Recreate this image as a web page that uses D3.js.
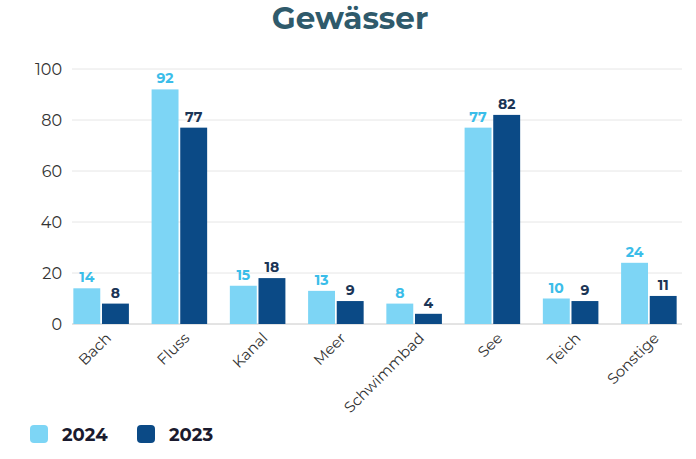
<!DOCTYPE html>
<html><head><meta charset="utf-8">
<script src="https://cdn.jsdelivr.net/npm/d3@7"></script>
<style>body{margin:0;background:#fff}svg{display:block}</style>
</head><body>
<svg id="c" width="696" height="459"></svg>
<script>
const categories = ["Bach","Fluss","Kanal","Meer","Schwimmbad","See","Teich","Sonstige"];
const seriesNames = ["2024","2023"];
const values2024 = [14,92,15,13,8,77,10,24];
const values2023 = [8,77,18,9,4,82,9,11];
const yTicks = [0,20,40,60,80,100];
const colors = ["#7dd5f5","#0b4a86"];
const labelColors = ["#3bbde9","#1b3556"];

const svg = d3.select("#c");
const font = "Montserrat, 'Noto Sans', 'DejaVu Sans', sans-serif";

const x = d3.scaleBand().domain(categories).range([62, 688]).paddingInner(0.29).paddingOuter(0.145);
const xs = d3.scaleBand().domain(seriesNames).range([0, x.bandwidth()]).paddingInner(0.06);
const y = d3.scaleLinear().domain([0,100]).range([324, 69]);

svg.append("text").attr("x",350).attr("y",29).attr("text-anchor","middle")
  .attr("font-family",font).attr("font-weight",700).attr("font-size",31)
  .attr("fill","#2f5a6b").text("Gewässer");

// grid
svg.append("g").selectAll("line").data(yTicks).join("line")
  .attr("x1",72).attr("x2",682).attr("y1",d=>y(d)).attr("y2",d=>y(d))
  .attr("stroke",d=>d===0?"#c8c8c8":"#e6e6e6").attr("stroke-width",1);

// y axis
const ya = svg.append("g").attr("transform","translate(62,0)")
  .call(d3.axisLeft(y).tickValues(yTicks).tickSize(0).tickPadding(0));
ya.select(".domain").remove();
ya.selectAll("text").attr("font-family",font).attr("font-size",16).attr("fill","#333").attr("dy","0.35em");

const data = categories.map((c,i)=>({c, v:[values2024[i], values2023[i]]}));
const g = svg.append("g").selectAll("g").data(data).join("g")
  .attr("transform",d=>`translate(${x(d.c)},0)`);
g.selectAll("rect").data(d=>d.v.map((v,j)=>({v,j}))).join("rect")
  .attr("x",d=>xs(seriesNames[d.j])).attr("width",xs.bandwidth())
  .attr("y",d=>y(d.v)).attr("height",d=>y(0)-y(d.v))
  .attr("fill",d=>colors[d.j]);
g.selectAll("text").data(d=>d.v.map((v,j)=>({v,j}))).join("text")
  .attr("x",d=>xs(seriesNames[d.j])+xs.bandwidth()/2).attr("y",d=>y(d.v)-6)
  .attr("text-anchor","middle").attr("font-family",font).attr("font-weight",700)
  .attr("font-size",14).attr("fill",d=>labelColors[d.j]).text(d=>d.v);

// x axis labels
const xa = svg.append("g").attr("transform","translate(0,324)")
  .call(d3.axisBottom(x).tickSize(0).tickPadding(0));
xa.select(".domain").remove();
xa.selectAll("text").attr("font-family",font).attr("font-size",15).attr("fill","#333")
  .attr("text-anchor","end").attr("dy",0)
  .attr("transform","translate(11,15) rotate(-45)");

// legend
const lg = svg.append("g").selectAll("g").data(seriesNames).join("g")
  .attr("transform",(d,i)=>`translate(${30+i*107},425)`);
lg.append("rect").attr("width",18).attr("height",18).attr("rx",4).attr("fill",(d,i)=>colors[i]);
lg.append("text").attr("x",32).attr("y",16).attr("font-family",font).attr("font-weight",700)
  .attr("font-size",18).attr("fill","#1a1a2e").text(d=>d);
</script>
</body></html>
